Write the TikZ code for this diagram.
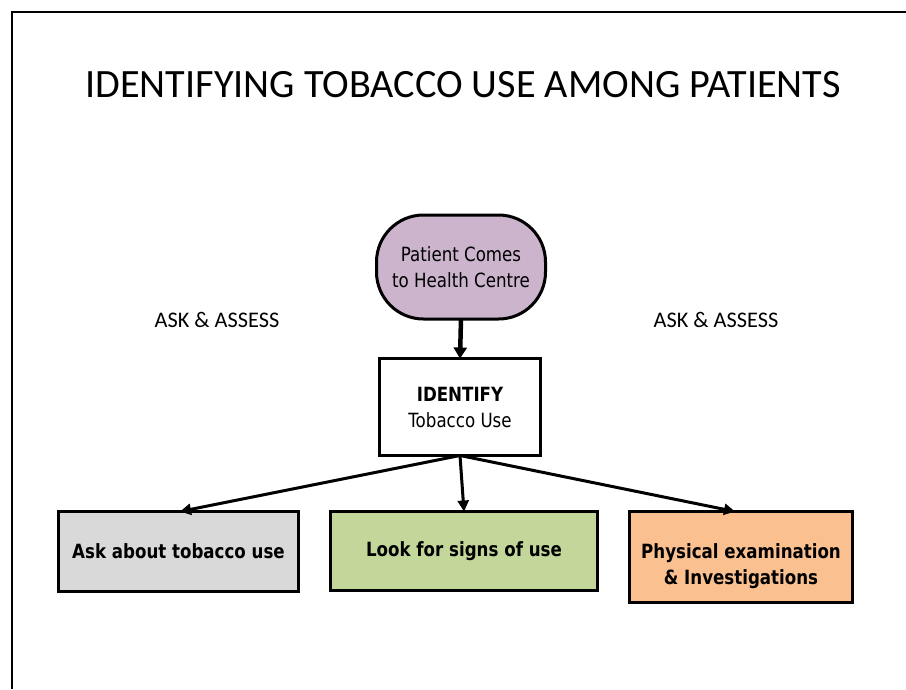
\documentclass[tikz,border=0pt]{standalone}
\usepackage{fontspec}
\setmainfont{Carlito}
\newfontfamily\verd[FakeStretch=0.85]{DejaVu Sans}
\usetikzlibrary{arrows.meta}
\definecolor{stadfill}{HTML}{CBB4CC}
\definecolor{askfill}{HTML}{D9D9D9}
\definecolor{lookfill}{HTML}{C4D79B}
\definecolor{physfill}{HTML}{FAC090}
\tikzset{
  boxbase/.style={draw=black, line width=3pt, inner sep=0pt, outer sep=0pt, align=center, font=\verd\fontsize{19.6}{26}\selectfont},
  lowbox/.style={boxbase, font=\verd\bfseries\fontsize{19.6}{26}\selectfont},
  lowtext/.style={align=center, inner sep=0pt, font=\verd\bfseries\fontsize{19.6}{26}\selectfont},
  flowarrow/.style={line width=3pt, -{Triangle[length=11pt,width=11pt]}},
  mainarrow/.style={line width=4.5pt, -{Triangle[length=11pt,width=13pt]}},
}
\begin{document}
\begin{tikzpicture}[x=1pt,y=-1pt]
\useasboundingbox (0,0) rectangle (906,689);
\fill[white] (0,0) rectangle (906,689);
\draw[line width=2pt] (12,689) -- (12,12) -- (906,12);
\node[anchor=base, font=\fontsize{40.2}{48}\selectfont] (title) at (463,97) {IDENTIFYING TOBACCO USE AMONG PATIENTS};
\node[font=\fontsize{22.3}{26}\selectfont] (askl) at (217,320) {ASK \& ASSESS};
\node[font=\fontsize{22.3}{26}\selectfont] (askr) at (716,320) {ASK \& ASSESS};
\node[boxbase, fill=stadfill, rounded corners=47pt, minimum width=169pt, minimum height=104pt] (patient) at (461,267) {Patient Comes\\to Health Centre};
\node[boxbase, fill=white, minimum width=161pt, minimum height=97pt] (identify) at (460,407) {{\bfseries IDENTIFY}\\Tobacco Use};
\node[lowbox, fill=askfill, minimum width=240pt, minimum height=80pt] (ask) at (178.5,551.5) {Ask about tobacco use};
\node[lowbox, fill=lookfill, minimum width=267pt, minimum height=79pt] (look) at (464,551) {Look for signs of use};
\node[lowbox, fill=physfill, minimum width=223pt, minimum height=91pt,
      label={[lowtext, yshift=-9pt]center:Physical examination\\\& Investigations}] (phys) at (741,557) {};
\draw[mainarrow] (patient.south) -- (identify.north);
\draw[flowarrow] (identify.south) -- ([xshift=1.5pt]ask.north);
\draw[flowarrow] (identify.south) -- (look.north);
\draw[flowarrow] (identify.south) -- ([xshift=-6pt]phys.north);
\end{tikzpicture}
\end{document}
